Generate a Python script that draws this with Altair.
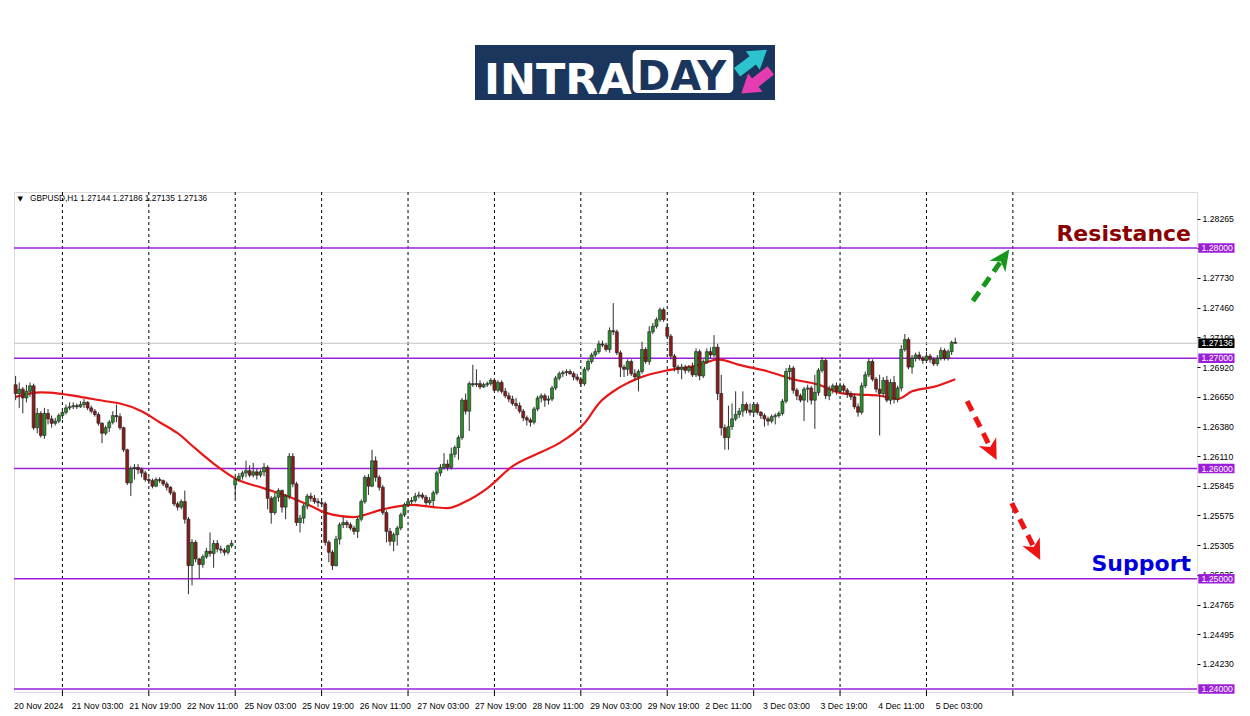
import math
import altair as alt
import pandas as pd

# ---------------- data ----------------
opens = [
    1.2676, 1.2668, 1.2672, 1.2664, 1.2670, 1.2675, 1.2637, 1.2650, 1.2630, 1.2650,
    1.2645, 1.2641, 1.2643, 1.2648, 1.2651, 1.2655, 1.2656, 1.2657, 1.2656, 1.2658,
    1.2660, 1.2655, 1.2652, 1.2649, 1.2641, 1.2632, 1.2637, 1.2642, 1.2648, 1.2647,
    1.2637, 1.2617, 1.2587, 1.2600, 1.2601, 1.2599, 1.2596, 1.2590, 1.2589, 1.2584,
    1.2590, 1.2589, 1.2586, 1.2583, 1.2578, 1.2568, 1.2565, 1.2570, 1.2554, 1.2512,
    1.2533, 1.2518, 1.2513, 1.2520, 1.2525, 1.2523, 1.2532, 1.2527, 1.2526, 1.2524,
    1.2530, 1.2585, 1.2590, 1.2593, 1.2596, 1.2598, 1.2594, 1.2597, 1.2594, 1.2597,
    1.2601, 1.2573, 1.2560, 1.2574, 1.2580, 1.2565, 1.2575, 1.2611, 1.2586, 1.2551,
    1.2555, 1.2566, 1.2575, 1.2573, 1.2570, 1.2569, 1.2568, 1.2533, 1.2524, 1.2512,
    1.2536, 1.2549, 1.2551, 1.2549, 1.2546, 1.2543, 1.2554, 1.2570, 1.2592, 1.2584,
    1.2607, 1.2592, 1.2583, 1.2560, 1.2543, 1.2534, 1.2540, 1.2546, 1.2558, 1.2567,
    1.2570, 1.2571, 1.2575, 1.2576, 1.2574, 1.2569, 1.2571, 1.2578, 1.2596, 1.2601,
    1.2604, 1.2601, 1.2613, 1.2619, 1.2628, 1.2662, 1.2652, 1.2677, 1.2676, 1.2677,
    1.2674, 1.2676, 1.2677, 1.2680, 1.2671, 1.2678, 1.2670, 1.2666, 1.2663, 1.2659,
    1.2657, 1.2652, 1.2646, 1.2644, 1.2642, 1.2654, 1.2664, 1.2666, 1.2662, 1.2663,
    1.2673, 1.2682, 1.2686, 1.2687, 1.2688, 1.2686, 1.2683, 1.2681, 1.2677, 1.2690,
    1.2697, 1.2703, 1.2706, 1.2713, 1.2712, 1.2708, 1.2725, 1.2724, 1.2705, 1.2692,
    1.2690, 1.2697, 1.2686, 1.2683, 1.2688, 1.2708, 1.2697, 1.2724, 1.2729, 1.2735,
    1.2744, 1.2728, 1.2720, 1.2702, 1.2692, 1.2690, 1.2692, 1.2689, 1.2692, 1.2685,
    1.2706, 1.2684, 1.2697, 1.2706, 1.2703, 1.2710, 1.2668, 1.2637, 1.2628, 1.2638,
    1.2645, 1.2649, 1.2652, 1.2658, 1.2653, 1.2651, 1.2658, 1.2651, 1.2648, 1.2645,
    1.2643, 1.2647, 1.2648, 1.2650, 1.2661, 1.2688, 1.2691, 1.2671, 1.2666, 1.2662,
    1.2672, 1.2673, 1.2662, 1.2669, 1.2689, 1.2698, 1.2666, 1.2672, 1.2675, 1.2670,
    1.2675, 1.2671, 1.2668, 1.2665, 1.2656, 1.2651, 1.2675, 1.2685, 1.2697, 1.2681,
    1.2672, 1.2668, 1.2680, 1.2662, 1.2678, 1.2663, 1.2673, 1.2708, 1.2717, 1.2692,
    1.2700, 1.2703, 1.2700, 1.2698, 1.2702, 1.2699, 1.2695, 1.2700, 1.2707, 1.2700,
    1.2706, 1.27144,
]
highs = [
    1.2684, 1.2678, 1.2674, 1.2676, 1.2678, 1.2677, 1.2655, 1.2652, 1.2655, 1.2654,
    1.2648, 1.2646, 1.2650, 1.2654, 1.2658, 1.2660, 1.2660, 1.2659, 1.2661, 1.2663,
    1.2661, 1.2657, 1.2654, 1.2651, 1.2642, 1.2639, 1.2644, 1.2652, 1.2658, 1.2650,
    1.2638, 1.2618, 1.2602, 1.2604, 1.2604, 1.2601, 1.2598, 1.2592, 1.2591, 1.2592,
    1.2592, 1.2590, 1.2588, 1.2584, 1.2580, 1.2570, 1.2572, 1.2580, 1.2556, 1.2536,
    1.2535, 1.2519, 1.2522, 1.2528, 1.2542, 1.2535, 1.2535, 1.2530, 1.2528, 1.2531,
    1.2535, 1.2592, 1.2596, 1.2598, 1.2607, 1.2603, 1.2605, 1.2600, 1.2599, 1.2605,
    1.2603, 1.2575, 1.2578, 1.2582, 1.2581, 1.2577, 1.2614, 1.2614, 1.2588, 1.2558,
    1.2568, 1.2577, 1.2578, 1.2576, 1.2573, 1.2572, 1.2570, 1.2535, 1.2526, 1.2539,
    1.2551, 1.2556, 1.2553, 1.2551, 1.2548, 1.2556, 1.2572, 1.2594, 1.2595, 1.2617,
    1.2611, 1.2594, 1.2585, 1.2562, 1.2546, 1.2542, 1.2548, 1.2560, 1.2569, 1.2573,
    1.2574, 1.2578, 1.2579, 1.2578, 1.2576, 1.2574, 1.2580, 1.2598, 1.2604, 1.2614,
    1.2608, 1.2619, 1.2621, 1.2630, 1.2664, 1.2668, 1.2679, 1.2694, 1.2690, 1.2680,
    1.2678, 1.2679, 1.2682, 1.2682, 1.2680, 1.2680, 1.2673, 1.2669, 1.2666, 1.2664,
    1.2660, 1.2654, 1.2648, 1.2646, 1.2656, 1.2666, 1.2668, 1.2668, 1.2666, 1.2675,
    1.2684, 1.2688, 1.2689, 1.2690, 1.2690, 1.2688, 1.2686, 1.2683, 1.2692, 1.2699,
    1.2705, 1.2709, 1.2716, 1.2716, 1.2714, 1.2728, 1.2750, 1.2726, 1.2707, 1.2694,
    1.2699, 1.2699, 1.2690, 1.2690, 1.2715, 1.2710, 1.2729, 1.2732, 1.2737, 1.2746,
    1.2746, 1.2732, 1.2722, 1.2704, 1.2694, 1.2695, 1.2694, 1.2694, 1.2696, 1.2709,
    1.2708, 1.2699, 1.2709, 1.2710, 1.2721, 1.2713, 1.2685, 1.2640, 1.2657, 1.2659,
    1.2670, 1.2655, 1.2670, 1.2660, 1.2659, 1.2660, 1.2660, 1.2652, 1.2650, 1.2647,
    1.2649, 1.2650, 1.2652, 1.2663, 1.2691, 1.2694, 1.2693, 1.2673, 1.2668, 1.2674,
    1.2676, 1.2675, 1.2685, 1.2691, 1.2701, 1.2700, 1.2675, 1.2677, 1.2678, 1.2678,
    1.2677, 1.2673, 1.2670, 1.2668, 1.2659, 1.2678, 1.2688, 1.2700, 1.2699, 1.2683,
    1.2685, 1.2683, 1.2684, 1.2681, 1.2684, 1.2675, 1.2712, 1.2722, 1.2719, 1.2703,
    1.2705, 1.2706, 1.2702, 1.2706, 1.2704, 1.2701, 1.2703, 1.2710, 1.2709, 1.2708,
    1.2716, 1.27186,
]
lows = [
    1.2662, 1.2655, 1.2650, 1.2660, 1.2665, 1.2635, 1.2632, 1.2628, 1.2627, 1.2640,
    1.2637, 1.2639, 1.2641, 1.2645, 1.2649, 1.2653, 1.2654, 1.2654, 1.2655, 1.2655,
    1.2653, 1.2650, 1.2647, 1.2639, 1.2623, 1.2630, 1.2633, 1.2640, 1.2642, 1.2635,
    1.2615, 1.2585, 1.2575, 1.2590, 1.2595, 1.2592, 1.2588, 1.2586, 1.2582, 1.2583,
    1.2587, 1.2584, 1.2580, 1.2576, 1.2566, 1.2562, 1.2563, 1.2550, 1.2486, 1.2494,
    1.2515, 1.2500, 1.2510, 1.2518, 1.2520, 1.2510, 1.2524, 1.2523, 1.2521, 1.2522,
    1.2528, 1.2573, 1.2588, 1.2590, 1.2592, 1.2592, 1.2592, 1.2590, 1.2592, 1.2593,
    1.2563, 1.2550, 1.2558, 1.2570, 1.2560, 1.2554, 1.2572, 1.2583, 1.2548, 1.2542,
    1.2550, 1.2563, 1.2570, 1.2568, 1.2565, 1.2565, 1.2530, 1.2515, 1.2508, 1.2511,
    1.2531, 1.2546, 1.2546, 1.2544, 1.2540, 1.2537, 1.2552, 1.2568, 1.2576, 1.2583,
    1.2588, 1.2580, 1.2558, 1.2533, 1.2530, 1.2525, 1.2530, 1.2544, 1.2556, 1.2565,
    1.2568, 1.2569, 1.2573, 1.2572, 1.2567, 1.2567, 1.2566, 1.2576, 1.2593, 1.2599,
    1.2598, 1.2599, 1.2610, 1.2608, 1.2626, 1.2649, 1.2634, 1.2674, 1.2674, 1.2672,
    1.2673, 1.2674, 1.2675, 1.2669, 1.2669, 1.2668, 1.2664, 1.2660, 1.2657, 1.2654,
    1.2650, 1.2643, 1.2639, 1.2638, 1.2640, 1.2652, 1.2660, 1.2656, 1.2658, 1.2661,
    1.2671, 1.2680, 1.2683, 1.2684, 1.2685, 1.2680, 1.2679, 1.2674, 1.2675, 1.2688,
    1.2695, 1.2701, 1.2704, 1.2710, 1.2706, 1.2705, 1.2721, 1.2703, 1.2683, 1.2683,
    1.2684, 1.2684, 1.2680, 1.2670, 1.2686, 1.2695, 1.2694, 1.2722, 1.2727, 1.2733,
    1.2733, 1.2718, 1.2699, 1.2688, 1.2686, 1.2681, 1.2686, 1.2687, 1.2683, 1.2683,
    1.2680, 1.2682, 1.2695, 1.2700, 1.2701, 1.2662, 1.2630, 1.2617, 1.2617, 1.2635,
    1.2643, 1.2646, 1.2647, 1.2650, 1.2648, 1.2649, 1.2649, 1.2645, 1.2638, 1.2639,
    1.2641, 1.2640, 1.2646, 1.2648, 1.2659, 1.2680, 1.2668, 1.2662, 1.2660, 1.2643,
    1.2660, 1.2658, 1.2636, 1.2666, 1.2687, 1.2663, 1.2662, 1.2668, 1.2667, 1.2668,
    1.2668, 1.2664, 1.2662, 1.2654, 1.2647, 1.2649, 1.2673, 1.2683, 1.2679, 1.2669,
    1.2630, 1.2665, 1.2660, 1.2658, 1.2659, 1.2660, 1.2670, 1.2706, 1.2690, 1.2686,
    1.2697, 1.2698, 1.2695, 1.2696, 1.2696, 1.2693, 1.2693, 1.2698, 1.2698, 1.2698,
    1.2703, 1.27135,
]
closes = [
    1.2668, 1.2672, 1.2664, 1.2670, 1.2675, 1.2637, 1.2650, 1.2630, 1.2650, 1.2645,
    1.2641, 1.2643, 1.2648, 1.2651, 1.2655, 1.2656, 1.2657, 1.2656, 1.2658, 1.2660,
    1.2655, 1.2652, 1.2649, 1.2641, 1.2632, 1.2637, 1.2642, 1.2648, 1.2647, 1.2637,
    1.2617, 1.2587, 1.2600, 1.2601, 1.2599, 1.2596, 1.2590, 1.2589, 1.2584, 1.2590,
    1.2589, 1.2586, 1.2583, 1.2578, 1.2568, 1.2565, 1.2570, 1.2554, 1.2512, 1.2533,
    1.2518, 1.2513, 1.2520, 1.2525, 1.2523, 1.2532, 1.2527, 1.2526, 1.2524, 1.2530,
    1.2532, 1.2590, 1.2593, 1.2596, 1.2598, 1.2594, 1.2597, 1.2594, 1.2597, 1.2601,
    1.2573, 1.2560, 1.2574, 1.2580, 1.2565, 1.2575, 1.2611, 1.2586, 1.2551, 1.2555,
    1.2566, 1.2575, 1.2573, 1.2570, 1.2569, 1.2568, 1.2533, 1.2524, 1.2512, 1.2536,
    1.2549, 1.2551, 1.2549, 1.2546, 1.2543, 1.2554, 1.2570, 1.2592, 1.2584, 1.2607,
    1.2592, 1.2583, 1.2560, 1.2543, 1.2534, 1.2540, 1.2546, 1.2558, 1.2567, 1.2570,
    1.2571, 1.2575, 1.2576, 1.2574, 1.2569, 1.2571, 1.2578, 1.2596, 1.2601, 1.2604,
    1.2601, 1.2613, 1.2619, 1.2628, 1.2662, 1.2652, 1.2677, 1.2676, 1.2677, 1.2674,
    1.2676, 1.2677, 1.2680, 1.2671, 1.2678, 1.2670, 1.2666, 1.2663, 1.2659, 1.2657,
    1.2652, 1.2646, 1.2644, 1.2642, 1.2654, 1.2664, 1.2666, 1.2662, 1.2663, 1.2673,
    1.2682, 1.2686, 1.2687, 1.2688, 1.2686, 1.2683, 1.2681, 1.2677, 1.2690, 1.2697,
    1.2703, 1.2706, 1.2713, 1.2712, 1.2708, 1.2725, 1.2724, 1.2705, 1.2692, 1.2690,
    1.2697, 1.2686, 1.2683, 1.2688, 1.2708, 1.2697, 1.2724, 1.2729, 1.2735, 1.2744,
    1.2735, 1.2720, 1.2702, 1.2692, 1.2690, 1.2692, 1.2689, 1.2692, 1.2685, 1.2706,
    1.2684, 1.2697, 1.2706, 1.2703, 1.2710, 1.2668, 1.2637, 1.2628, 1.2638, 1.2645,
    1.2649, 1.2652, 1.2658, 1.2653, 1.2651, 1.2658, 1.2651, 1.2648, 1.2645, 1.2643,
    1.2647, 1.2648, 1.2650, 1.2661, 1.2688, 1.2691, 1.2671, 1.2666, 1.2662, 1.2672,
    1.2673, 1.2662, 1.2669, 1.2689, 1.2698, 1.2666, 1.2672, 1.2675, 1.2670, 1.2675,
    1.2671, 1.2668, 1.2665, 1.2656, 1.2651, 1.2675, 1.2685, 1.2697, 1.2681, 1.2672,
    1.2668, 1.2680, 1.2662, 1.2678, 1.2663, 1.2673, 1.2708, 1.2717, 1.2692, 1.2700,
    1.2703, 1.2700, 1.2698, 1.2702, 1.2699, 1.2695, 1.2700, 1.2707, 1.2700, 1.2706,
    1.27144, 1.27136,
]

# moving average (red line), read at selected bars
ma_index = [0, 7, 12, 18, 25, 29, 35, 40, 45, 50, 56, 61, 69, 77, 82, 86, 94, 102,
            110, 116, 120, 125, 131, 138, 146, 151, 158, 162, 168, 173, 181, 187,
            191, 195, 201, 209, 216, 223, 230, 235, 240, 245, 249, 255, 261]
ma_values = [1.2665, 1.2669, 1.2668, 1.2665, 1.2661, 1.2659, 1.2652, 1.2642, 1.2632,
             1.2618, 1.2602, 1.2591, 1.2582, 1.2573, 1.2566, 1.2560, 1.2556, 1.2563,
             1.2567, 1.2565, 1.2564, 1.2570, 1.2582, 1.2602, 1.2615, 1.2623, 1.2641,
             1.2659, 1.2674, 1.2682, 1.2689, 1.2692, 1.2695, 1.2699, 1.2694, 1.2688,
             1.2681, 1.2676, 1.2668, 1.2667, 1.2666, 1.2663, 1.2670, 1.2674, 1.2681]

level_prices = [1.28, 1.27, 1.26, 1.25, 1.24]
current_price = 1.27136
header_text = "GBPUSD,H1  1.27144 1.27186 1.27135 1.27136"

ytick_values = [1.23960, 1.24230, 1.24495, 1.24765, 1.25035, 1.25305, 1.25575,
                1.25845, 1.26110, 1.26380, 1.26650, 1.26920, 1.27190, 1.27460,
                1.27730, 1.28000, 1.28265]

time_label_index = [0, 16, 32, 48, 64, 80, 96, 112, 128, 144, 160, 176, 192,
                    208, 224, 240, 256]
time_labels = ["20 Nov 2024", "21 Nov 03:00", "21 Nov 19:00", "22 Nov 11:00",
               "25 Nov 03:00", "25 Nov 19:00", "26 Nov 11:00", "27 Nov 03:00",
               "27 Nov 19:00", "28 Nov 11:00", "29 Nov 03:00", "29 Nov 19:00",
               "2 Dec 11:00", "3 Dec 03:00", "3 Dec 19:00", "4 Dec 11:00",
               "5 Dec 03:00"]
day_start_index = [13, 37, 61, 85, 109, 133, 157, 181, 205, 229, 253, 277]

arrow_names = ["up", "down1", "down2"]
arrow_start_index = [265.9, 264.3, 276.7]
arrow_start_price = [1.27519, 1.26612, 1.25687]
arrow_tip_index = [276.0, 272.5, 284.6]
arrow_tip_price = [1.27986, 1.26077, 1.25170]

# ---------------- styles / layout ----------------
W, H = 1183, 500
X_DOMAIN = [-0.45, 328.15]
Y_DOMAIN = [1.23973, 1.28508]
PX_PER_BAR = W / (X_DOMAIN[1] - X_DOMAIN[0])
PX_PER_PRICE = H / (Y_DOMAIN[1] - Y_DOMAIN[0])

BULL = "#2a8f2a"
BEAR = "#8b1c1c"
PURPLE = "#9b1fd8"
MA_RED = "#e81818"
NAVY = "#1b365d"
ARROW_COLORS = {"up": "#16961a", "down1": "#ee1414", "down2": "#ee1414"}
LABEL_FONT = "Liberation Sans"

xs = alt.Scale(domain=X_DOMAIN, nice=False, zero=False, padding=0)
ys = alt.Scale(domain=Y_DOMAIN, nice=False, zero=False, padding=0)
X = alt.X("i:Q", scale=xs, axis=None)

yaxis = alt.Axis(orient="right", values=ytick_values, format=".5f", grid=False,
                 domain=False, ticks=True, tickSize=3, tickColor="black",
                 labelColor="black", labelFont=LABEL_FONT, labelFontSize=8.7,
                 labelPadding=2, labelOverlap=False, title=None)


def Y(field):
    return alt.Y(field, scale=ys, axis=yaxis)


n = len(closes)
candles = pd.DataFrame({"i": list(range(n)), "open": opens, "high": highs,
                        "low": lows, "close": closes})
ma_df = pd.DataFrame({"i": ma_index, "ma": ma_values})
levels_df = pd.DataFrame({"price": level_prices})
one = pd.DataFrame({"k": [0]})

grid = alt.Chart(pd.DataFrame({"i": day_start_index})).mark_rule(
    color="black", strokeDash=[3, 3], strokeWidth=1).encode(x=X)
bottom_ticks = alt.Chart(pd.DataFrame({"i": day_start_index})).mark_rule(
    color="black", strokeWidth=1).encode(x=X, y=alt.value(H), y2=alt.value(H + 4))

level_lines = alt.Chart(levels_df).mark_rule(color=PURPLE, strokeWidth=1.5).encode(
    y=Y("price:Q"))
bid_line = alt.Chart(pd.DataFrame({"price": [current_price]})).mark_rule(
    color="#c4c4c4", strokeWidth=1).encode(y=Y("price:Q"))

ma_line = alt.Chart(ma_df).mark_line(color=MA_RED, strokeWidth=2.2,
                                     interpolate="monotone").encode(
    x=X, y=Y("ma:Q"))

wicks = alt.Chart(candles).mark_rule(color="#2e2e2e", strokeWidth=1).encode(
    x=X, y=Y("low:Q"), y2="high:Q")
bodies = alt.Chart(candles).mark_bar(size=3, stroke="#1c1c1c", strokeWidth=0.6).encode(
    x=X, y=Y("open:Q"), y2="close:Q",
    color=alt.condition("datum.close >= datum.open", alt.value(BULL), alt.value(BEAR)))

# dashed forecast arrows
arrows = pd.DataFrame({"arrow": arrow_names, "i0": arrow_start_index,
                       "p0": arrow_start_price, "i1": arrow_tip_index,
                       "p1": arrow_tip_price})
arrows["color"] = arrows["arrow"].map(ARROW_COLORS)
dxp = (arrows["i1"] - arrows["i0"]) * PX_PER_BAR
dyp = -(arrows["p1"] - arrows["p0"]) * PX_PER_PRICE
length = (dxp ** 2 + dyp ** 2) ** 0.5
frac = 1 - 12 / length
arrows["ie"] = arrows["i0"] + frac * (arrows["i1"] - arrows["i0"])
arrows["pe"] = arrows["p0"] + frac * (arrows["p1"] - arrows["p0"])
arrows["angle"] = [math.degrees(math.atan2(a, -b)) for a, b in zip(dxp, dyp)]
seg = pd.concat([
    pd.DataFrame({"arrow": arrows["arrow"], "color": arrows["color"], "o": 0,
                  "i": arrows["i0"], "p": arrows["p0"]}),
    pd.DataFrame({"arrow": arrows["arrow"], "color": arrows["color"], "o": 1,
                  "i": arrows["ie"], "p": arrows["pe"]}),
])
arrow_lines = alt.Chart(seg).mark_line(strokeWidth=5, strokeDash=[11, 7],
                                       strokeCap="butt").encode(
    x=X, y=Y("p:Q"), detail="arrow:N", order="o:Q",
    color=alt.Color("color:N", scale=None))
HEAD = "M0,0 L1,2.1 L0,1.5 L-1,2.1 Z"
arrow_heads = alt.Chart(arrows).mark_point(shape=HEAD, filled=True, size=380,
                                           opacity=1).encode(
    x=alt.X("i1:Q", scale=xs, axis=None), y=Y("p1:Q"),
    angle=alt.Angle("angle:Q", scale=None), color=alt.Color("color:N", scale=None))

# texts
resistance = alt.Chart(one).mark_text(text="Resistance", font="DejaVu Sans",
                                      fontWeight="bold", fontSize=22, align="right",
                                      baseline="alphabetic", color="#8b0000").encode(
    x=alt.value(1177), y=alt.value(48.5))
support = alt.Chart(one).mark_text(text="Support", font="DejaVu Sans",
                                   fontWeight="bold", fontSize=22, align="right",
                                   baseline="alphabetic", color="#0000dd").encode(
    x=alt.value(1177), y=alt.value(378.5))
hdr_tri = alt.Chart(one).mark_text(text="▼", fontSize=7, font="DejaVu Sans",
                                   align="left", baseline="middle", color="black").encode(
    x=alt.value(3.5), y=alt.value(7))
hdr = alt.Chart(one).mark_text(text=header_text, fontSize=8.3, font=LABEL_FONT,
                               align="left", baseline="middle", color="black").encode(
    x=alt.value(16), y=alt.value(7))

time_df = pd.DataFrame({"i": time_label_index, "label": time_labels})
time_text = alt.Chart(time_df).mark_text(align="left", baseline="middle", dx=-1.5,
                                         fontSize=8.7, font=LABEL_FONT,
                                         color="black").encode(
    x=X, y=alt.value(H + 14), text="label:N")

# price boxes on the right scale
boxes_df = pd.DataFrame({"price": level_prices + [current_price],
                         "fill": [PURPLE] * len(level_prices) + ["#000000"]})
half = 4.8 / PX_PER_PRICE
price_boxes = alt.Chart(boxes_df).transform_calculate(
    lo=f"datum.price - {half}", hi=f"datum.price + {half}").mark_rect().encode(
    x=alt.value(W + 1.3), x2=alt.value(W + 37.5),
    y=Y("lo:Q"), y2="hi:Q",
    color=alt.Color("fill:N", scale=None))
price_text = alt.Chart(boxes_df).mark_text(align="left", baseline="middle",
                                           fontSize=8.7, font=LABEL_FONT,
                                           color="white").encode(
    x=alt.value(W + 4.5), y=Y("price:Q"),
    text=alt.Text("price:Q", format=".5f"))

# logo
logo_bg = alt.Chart(one).mark_rect(color=NAVY).encode(
    x=alt.value(461), x2=alt.value(761), y=alt.value(-147), y2=alt.value(-92))
logo_box = alt.Chart(one).mark_rect(color="white", cornerRadius=5).encode(
    x=alt.value(618.7), x2=alt.value(719.3), y=alt.value(-142), y2=alt.value(-99))
logo_intra = alt.Chart(one).mark_text(text="INTRA", font="DejaVu Sans", fontWeight="bold",
                                      fontSize=43, align="left", baseline="alphabetic",
                                      color="white").encode(
    x=alt.value(470), y=alt.value(-98.5))
logo_day = alt.Chart(one).mark_text(text="DAY", font="DejaVu Sans", fontWeight="bold",
                                    fontSize=40, align="left", baseline="alphabetic",
                                    color=NAVY).encode(
    x=alt.value(623), y=alt.value(-102))
ARROW_SHAPE = "M-0.28,1 L-0.28,-0.05 L-0.62,-0.05 L0,-1 L0.62,-0.05 L0.28,-0.05 L0.28,1 Z"
logo_up = alt.Chart(one).mark_point(shape=ARROW_SHAPE, filled=True, size=1400, opacity=1,
                                    angle=53, color="#2cc3cf").encode(
    x=alt.value(738), y=alt.value(-131))
logo_down = alt.Chart(one).mark_point(shape=ARROW_SHAPE, filled=True, size=1400, opacity=1,
                                      angle=232, color="#e63cb2").encode(
    x=alt.value(742), y=alt.value(-110))

chart = alt.layer(
    grid, bottom_ticks, level_lines, bid_line, ma_line, wicks, bodies,
    arrow_lines, arrow_heads, resistance, support, hdr_tri, hdr, time_text,
    price_boxes, price_text, logo_bg, logo_box, logo_intra, logo_day, logo_up, logo_down,
).properties(
    width=W, height=H,
    autosize=alt.AutoSizeParams(type="none"),
    padding={"left": 6, "top": 184, "right": 44, "bottom": 20},
).configure_view(stroke="black", strokeWidth=1).configure(background="white")

chart.save("out.html", embed_options={"renderer": "svg", "actions": False})
